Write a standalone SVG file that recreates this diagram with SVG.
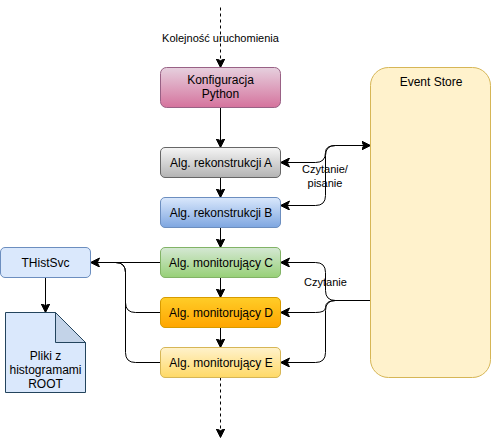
<svg xmlns="http://www.w3.org/2000/svg" width="491" height="446" viewBox="0 0 491 446">
<style>
text{font-family:"Liberation Sans",Arial,sans-serif;font-size:12px;fill:#000;text-anchor:middle}
text.s{font-size:11px}
.c{fill:none;stroke:#000;stroke-width:1;marker-end:url(#a)}
.d{stroke-dasharray:3 3}
.o{fill:none;stroke:#000;stroke-width:1}
</style>
<defs>
<marker id="a" markerUnits="userSpaceOnUse" markerWidth="12" markerHeight="10" refX="9" refY="4.5" orient="auto"><path d="M0 0L9 4.500L0 9L2.200 4.500Z" fill="#000" stroke="#000" stroke-width="1"/></marker>
<marker id="b" markerUnits="userSpaceOnUse" markerWidth="12" markerHeight="10" refX="0" refY="4.5" orient="auto"><path d="M9 0L0 4.500L9 9L6.800 4.500Z" fill="#000" stroke="#000" stroke-width="1"/></marker>
<linearGradient id="g1" x1="0" y1="0" x2="0" y2="1"><stop offset="0" stop-color="#e6d0de"/><stop offset="1" stop-color="#d5739d"/></linearGradient>
<linearGradient id="g2" x1="0" y1="0" x2="0" y2="1"><stop offset="0" stop-color="#f5f5f5"/><stop offset="1" stop-color="#b3b3b3"/></linearGradient>
<linearGradient id="g3" x1="0" y1="0" x2="0" y2="1"><stop offset="0" stop-color="#dae8fc"/><stop offset="1" stop-color="#7ea6e0"/></linearGradient>
<linearGradient id="g4" x1="0" y1="0" x2="0" y2="1"><stop offset="0" stop-color="#d5e8d4"/><stop offset="1" stop-color="#97d077"/></linearGradient>
<linearGradient id="g5" x1="0" y1="0" x2="0" y2="1"><stop offset="0" stop-color="#ffcd28"/><stop offset="1" stop-color="#ffa500"/></linearGradient>
<linearGradient id="g6" x1="0" y1="0" x2="0" y2="1"><stop offset="0" stop-color="#fff2cc"/><stop offset="1" stop-color="#ffd966"/></linearGradient>
</defs>
<g id="connectors">
<path class="c d" d="M220.500 7.500V67.500"/>
<path class="c" d="M220.500 107.500V147.500"/>
<path class="c" d="M220.500 177.500V197.500"/>
<path class="c" d="M220.500 227.500V247.500"/>
<path class="c" d="M220.500 277.500V297.500"/>
<path class="c" d="M220.500 327.500V347.500"/>
<path class="c d" d="M220.500 377.500V437.500"/>
<path class="c" d="M45.500 277.500V312.500"/>
<path class="c" d="M160.500 262.500H90.500"/>
<path class="o" d="M160.500 312.500H135.500Q125.500 312.500 125.500 302.500V272.500Q125.500 262.500 115.500 262.500"/>
<path class="o" d="M160.500 362.500H135.500Q125.500 362.500 125.500 352.500V272.500Q125.500 262.500 115.500 262.500"/>
<path class="c" d="M280.500 162.500H315.500Q325.500 162.500 325.500 152.500Q325.500 145.500 335.500 145.500H370.500" style="marker-start:url(#b)"/>
<path class="c" d="M370.500 145.500H335.500Q325.500 145.500 325.500 155.500V195.500Q325.500 205.500 315.500 205.500H280.500"/>
<path class="c" d="M370.500 300.500H335.500Q325.500 300.500 325.500 290.500V272.500Q325.500 262.500 315.500 262.500H280.500"/>
<path class="c" d="M370.500 300.500H335.500Q325.500 300.500 325.500 307.500Q325.500 312.500 315.500 312.500H280.500"/>
<path class="c" d="M370.500 300.500H335.500Q325.500 300.500 325.500 310.500V352.500Q325.500 362.500 315.500 362.500H280.500"/>
</g>
<g id="order-label"><text class="s" x="220.500" y="41.500">Kolejność uruchomienia</text></g>
<g id="config"><rect x="160.500" y="67.500" width="120" height="40" rx="6" fill="url(#g1)" stroke="#996185"/><text x="220.500" y="84">Konfiguracja</text><text x="220.500" y="98">Python</text></g>
<g id="algA"><rect x="160.500" y="147.500" width="120" height="30" rx="4.500" fill="url(#g2)" stroke="#666"/><text x="221" y="167">Alg. rekonstrukcji A</text></g>
<g id="algB"><rect x="160.500" y="197.500" width="120" height="30" rx="4.500" fill="url(#g3)" stroke="#6c8ebf"/><text x="221" y="217">Alg. rekonstrukcji B</text></g>
<g id="algC"><rect x="160.500" y="247.500" width="120" height="30" rx="4.500" fill="url(#g4)" stroke="#82b366"/><text x="221" y="267">Alg. monitorujący C</text></g>
<g id="algD"><rect x="160.500" y="297.500" width="120" height="30" rx="4.500" fill="url(#g5)" stroke="#d79b00"/><text x="221" y="317">Alg. monitorujący D</text></g>
<g id="algE"><rect x="160.500" y="347.500" width="120" height="30" rx="4.500" fill="url(#g6)" stroke="#d6b656"/><text x="221" y="367">Alg. monitorujący E</text></g>
<g id="eventstore"><rect x="370.500" y="67.500" width="120" height="310" rx="18" fill="#fff2cc" stroke="#d6b656"/><text x="431" y="86">Event Store</text></g>
<g id="thistsvc"><rect x="0.500" y="247.500" width="90" height="30" rx="4.500" fill="#dae8fc" stroke="#6c8ebf"/><text x="45.500" y="267">THistSvc</text></g>
<g id="file"><path d="M5.500 312.500H55.500L85.500 342.500V392.500H5.500Z" fill="#dae8fc" stroke="#23445d"/><path d="M55.500 312.500V342.500H85.500Z" fill="#c3d3e8" stroke="#23445d"/><text x="45.500" y="360">Pliki z</text><text x="45.500" y="374">histogramami</text><text x="45.500" y="388">ROOT</text></g>
<g id="rw-label"><text class="s" x="325" y="173">Czytanie/</text><text class="s" x="325" y="187">pisanie</text></g>
<g id="read-label"><text class="s" x="325.500" y="286">Czytanie</text></g>
</svg>
